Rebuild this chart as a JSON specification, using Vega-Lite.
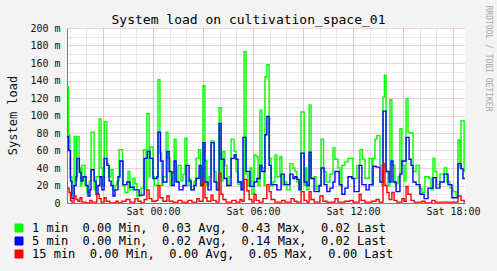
{
  "$schema": "https://vega.github.io/schema/vega-lite/v6.json",
  "width": 398,
  "height": 175,
  "autosize": {"type": "none"},
  "padding": {"left": 67, "top": 28, "right": 32, "bottom": 68},
  "background": "#F3F3F3",
  "title": {"text": "System load on cultivation_space_01", "font": "DejaVu Sans Mono", "fontSize": 13, "fontWeight": "normal", "color": "#000000", "anchor": "middle", "frame": "bounds", "offset": -22},
  "config": {
    "view": {"fill": "#FFFFFF", "stroke": null},
    "axis": {"labelFont": "DejaVu Sans Mono", "labelFontSize": 10, "labelColor": "#111111", "titleFont": "DejaVu Sans Mono", "titleFontWeight": "normal", "titleColor": "#111111"},
    "legend": {"orient": "none", "legendX": -54, "legendY": 194, "direction": "vertical", "symbolType": "square", "symbolSize": 64, "symbolStrokeWidth": 1, "labelFont": "DejaVu Sans Mono", "labelFontSize": 12, "labelColor": "#000000", "labelLimit": 600, "rowPadding": 1, "labelOffset": 7}
  },
  "datasets": {
    "g": [
      {"t":"2024-01-05T18:50:00Z","v":133},{"t":"2024-01-05T18:56:00Z","v":78},{"t":"2024-01-05T19:01:00Z","v":30},{"t":"2024-01-05T19:08:00Z","v":11},
      {"t":"2024-01-05T19:16:00Z","v":76},{"t":"2024-01-05T19:23:00Z","v":25},{"t":"2024-01-05T19:26:00Z","v":76},{"t":"2024-01-05T19:34:00Z","v":40},
      {"t":"2024-01-05T19:39:00Z","v":20},{"t":"2024-01-05T19:44:00Z","v":43},{"t":"2024-01-05T19:55:00Z","v":20},{"t":"2024-01-05T20:02:00Z","v":12},
      {"t":"2024-01-05T20:10:00Z","v":25},{"t":"2024-01-05T20:17:00Z","v":81},{"t":"2024-01-05T20:28:00Z","v":15},{"t":"2024-01-05T20:35:00Z","v":30},
      {"t":"2024-01-05T20:46:00Z","v":96},{"t":"2024-01-05T20:53:00Z","v":40},{"t":"2024-01-05T20:58:00Z","v":20},{"t":"2024-01-05T21:05:00Z","v":93},
      {"t":"2024-01-05T21:14:00Z","v":45},{"t":"2024-01-05T21:20:00Z","v":30},{"t":"2024-01-05T21:29:00Z","v":38},{"t":"2024-01-05T21:36:00Z","v":15},
      {"t":"2024-01-05T21:43:00Z","v":20},{"t":"2024-01-05T21:50:00Z","v":25},{"t":"2024-01-05T21:58:00Z","v":61},{"t":"2024-01-05T22:10:00Z","v":20},
      {"t":"2024-01-05T22:19:00Z","v":12},{"t":"2024-01-05T22:30:00Z","v":36},{"t":"2024-01-05T22:37:00Z","v":15},{"t":"2024-01-05T22:48:00Z","v":28},
      {"t":"2024-01-05T22:55:00Z","v":22},{"t":"2024-01-05T23:02:00Z","v":8},{"t":"2024-01-05T23:17:00Z","v":17},{"t":"2024-01-05T23:26:00Z","v":61},
      {"t":"2024-01-05T23:35:00Z","v":15},{"t":"2024-01-05T23:38:00Z","v":102},{"t":"2024-01-05T23:46:00Z","v":30},{"t":"2024-01-05T23:49:00Z","v":64},
      {"t":"2024-01-06T00:00:00Z","v":30},{"t":"2024-01-06T00:05:00Z","v":20},{"t":"2024-01-06T00:18:00Z","v":141},{"t":"2024-01-06T00:25:00Z","v":57},
      {"t":"2024-01-06T00:31:00Z","v":20},{"t":"2024-01-06T00:36:00Z","v":30},{"t":"2024-01-06T00:47:00Z","v":81},{"t":"2024-01-06T00:54:00Z","v":51},
      {"t":"2024-01-06T01:01:00Z","v":20},{"t":"2024-01-06T01:08:00Z","v":35},{"t":"2024-01-06T01:16:00Z","v":73},{"t":"2024-01-06T01:23:00Z","v":25},
      {"t":"2024-01-06T01:30:00Z","v":43},{"t":"2024-01-06T01:41:00Z","v":25},{"t":"2024-01-06T01:48:00Z","v":33},{"t":"2024-01-06T01:55:00Z","v":74},
      {"t":"2024-01-06T02:02:00Z","v":20},{"t":"2024-01-06T02:10:00Z","v":27},{"t":"2024-01-06T02:17:00Z","v":15},{"t":"2024-01-06T02:28:00Z","v":25},
      {"t":"2024-01-06T02:35:00Z","v":51},{"t":"2024-01-06T02:44:00Z","v":61},{"t":"2024-01-06T02:51:00Z","v":20},{"t":"2024-01-06T03:00:00Z","v":134},
      {"t":"2024-01-06T03:07:00Z","v":48},{"t":"2024-01-06T03:14:00Z","v":20},{"t":"2024-01-06T03:22:00Z","v":30},{"t":"2024-01-06T03:29:00Z","v":71},
      {"t":"2024-01-06T03:40:00Z","v":36},{"t":"2024-01-06T03:47:00Z","v":15},{"t":"2024-01-06T03:58:00Z","v":109},{"t":"2024-01-06T04:05:00Z","v":25},
      {"t":"2024-01-06T04:12:00Z","v":59},{"t":"2024-01-06T04:19:00Z","v":43},{"t":"2024-01-06T04:26:00Z","v":20},{"t":"2024-01-06T04:34:00Z","v":30},
      {"t":"2024-01-06T04:41:00Z","v":73},{"t":"2024-01-06T04:52:00Z","v":59},{"t":"2024-01-06T04:59:00Z","v":36},{"t":"2024-01-06T05:06:00Z","v":21},
      {"t":"2024-01-06T05:13:00Z","v":24},{"t":"2024-01-06T05:20:00Z","v":15},{"t":"2024-01-06T05:28:00Z","v":173},{"t":"2024-01-06T05:35:00Z","v":33},
      {"t":"2024-01-06T05:42:00Z","v":20},{"t":"2024-01-06T05:49:00Z","v":40},{"t":"2024-01-06T05:56:00Z","v":10},{"t":"2024-01-06T06:04:00Z","v":55},
      {"t":"2024-01-06T06:11:00Z","v":53},{"t":"2024-01-06T06:18:00Z","v":20},{"t":"2024-01-06T06:25:00Z","v":106},{"t":"2024-01-06T06:32:00Z","v":40},
      {"t":"2024-01-06T06:40:00Z","v":20},{"t":"2024-01-06T06:43:00Z","v":144},{"t":"2024-01-06T06:50:00Z","v":158},{"t":"2024-01-06T06:58:00Z","v":51},
      {"t":"2024-01-06T07:05:00Z","v":20},{"t":"2024-01-06T07:12:00Z","v":24},{"t":"2024-01-06T07:19:00Z","v":55},{"t":"2024-01-06T07:26:00Z","v":30},
      {"t":"2024-01-06T07:37:00Z","v":53},{"t":"2024-01-06T07:44:00Z","v":21},{"t":"2024-01-06T07:55:00Z","v":24},{"t":"2024-01-06T08:02:00Z","v":15},
      {"t":"2024-01-06T08:13:00Z","v":45},{"t":"2024-01-06T08:24:00Z","v":40},{"t":"2024-01-06T08:31:00Z","v":36},{"t":"2024-01-06T08:38:00Z","v":24},
      {"t":"2024-01-06T08:46:00Z","v":15},{"t":"2024-01-06T08:53:00Z","v":104},{"t":"2024-01-06T09:04:00Z","v":20},{"t":"2024-01-06T09:09:00Z","v":40},
      {"t":"2024-01-06T09:14:00Z","v":15},{"t":"2024-01-06T09:22:00Z","v":112},{"t":"2024-01-06T09:29:00Z","v":28},{"t":"2024-01-06T09:40:00Z","v":30},
      {"t":"2024-01-06T09:47:00Z","v":15},{"t":"2024-01-06T09:50:00Z","v":19},{"t":"2024-01-06T10:05:00Z","v":73},{"t":"2024-01-06T10:14:00Z","v":36},
      {"t":"2024-01-06T10:23:00Z","v":24},{"t":"2024-01-06T10:37:00Z","v":33},{"t":"2024-01-06T10:48:00Z","v":63},{"t":"2024-01-06T10:55:00Z","v":50},
      {"t":"2024-01-06T11:06:00Z","v":40},{"t":"2024-01-06T11:13:00Z","v":20},{"t":"2024-01-06T11:20:00Z","v":43},{"t":"2024-01-06T11:31:00Z","v":47},
      {"t":"2024-01-06T11:42:00Z","v":51},{"t":"2024-01-06T12:00:00Z","v":28},{"t":"2024-01-06T12:14:00Z","v":43},{"t":"2024-01-06T12:25:00Z","v":61},
      {"t":"2024-01-06T12:34:00Z","v":50},{"t":"2024-01-06T12:43:00Z","v":28},{"t":"2024-01-06T12:58:00Z","v":51},{"t":"2024-01-06T13:08:00Z","v":20},
      {"t":"2024-01-06T13:12:00Z","v":51},{"t":"2024-01-06T13:19:00Z","v":73},{"t":"2024-01-06T13:26:00Z","v":77},{"t":"2024-01-06T13:37:00Z","v":43},
      {"t":"2024-01-06T13:44:00Z","v":20},{"t":"2024-01-06T13:48:00Z","v":121},{"t":"2024-01-06T13:53:00Z","v":146},{"t":"2024-01-06T13:59:00Z","v":36},
      {"t":"2024-01-06T14:06:00Z","v":20},{"t":"2024-01-06T14:13:00Z","v":118},{"t":"2024-01-06T14:20:00Z","v":43},{"t":"2024-01-06T14:31:00Z","v":22},
      {"t":"2024-01-06T14:42:00Z","v":30},{"t":"2024-01-06T14:49:00Z","v":85},{"t":"2024-01-06T14:56:00Z","v":43},{"t":"2024-01-06T15:04:00Z","v":25},
      {"t":"2024-01-06T15:11:00Z","v":119},{"t":"2024-01-06T15:18:00Z","v":81},{"t":"2024-01-06T15:25:00Z","v":80},{"t":"2024-01-06T15:36:00Z","v":36},
      {"t":"2024-01-06T15:47:00Z","v":43},{"t":"2024-01-06T15:58:00Z","v":17},{"t":"2024-01-06T16:08:00Z","v":12},{"t":"2024-01-06T16:19:00Z","v":30},
      {"t":"2024-01-06T16:34:00Z","v":28},{"t":"2024-01-06T16:41:00Z","v":15},{"t":"2024-01-06T16:48:00Z","v":51},{"t":"2024-01-06T16:55:00Z","v":36},
      {"t":"2024-01-06T17:02:00Z","v":21},{"t":"2024-01-06T17:13:00Z","v":33},{"t":"2024-01-06T17:28:00Z","v":40},{"t":"2024-01-06T17:38:00Z","v":24},
      {"t":"2024-01-06T17:49:00Z","v":17},{"t":"2024-01-06T18:00:00Z","v":13},{"t":"2024-01-06T18:11:00Z","v":8},{"t":"2024-01-06T18:18:00Z","v":72},
      {"t":"2024-01-06T18:25:00Z","v":40},{"t":"2024-01-06T18:29:00Z","v":94},{"t":"2024-01-06T18:40:00Z","v":36},{"t":"2024-01-06T18:43:00Z","v":36}
    ],
    "b": [
      {"t":"2024-01-05T18:50:00Z","v":76},{"t":"2024-01-05T18:56:00Z","v":60},{"t":"2024-01-05T19:03:00Z","v":25},{"t":"2024-01-05T19:08:00Z","v":5},
      {"t":"2024-01-05T19:16:00Z","v":20},{"t":"2024-01-05T19:23:00Z","v":30},{"t":"2024-01-05T19:26:00Z","v":51},{"t":"2024-01-05T19:35:00Z","v":35},
      {"t":"2024-01-05T19:41:00Z","v":25},{"t":"2024-01-05T19:48:00Z","v":30},{"t":"2024-01-05T19:59:00Z","v":20},{"t":"2024-01-05T20:06:00Z","v":8},
      {"t":"2024-01-05T20:13:00Z","v":15},{"t":"2024-01-05T20:17:00Z","v":38},{"t":"2024-01-05T20:28:00Z","v":25},{"t":"2024-01-05T20:35:00Z","v":10},
      {"t":"2024-01-05T20:42:00Z","v":20},{"t":"2024-01-05T20:49:00Z","v":30},{"t":"2024-01-05T20:56:00Z","v":15},{"t":"2024-01-05T21:04:00Z","v":51},
      {"t":"2024-01-05T21:14:00Z","v":43},{"t":"2024-01-05T21:22:00Z","v":25},{"t":"2024-01-05T21:29:00Z","v":20},{"t":"2024-01-05T21:36:00Z","v":8},
      {"t":"2024-01-05T21:43:00Z","v":15},{"t":"2024-01-05T21:54:00Z","v":30},{"t":"2024-01-05T22:01:00Z","v":48},{"t":"2024-01-05T22:12:00Z","v":21},
      {"t":"2024-01-05T22:26:00Z","v":24},{"t":"2024-01-05T22:37:00Z","v":18},{"t":"2024-01-05T22:52:00Z","v":15},{"t":"2024-01-05T23:10:00Z","v":9},
      {"t":"2024-01-05T23:28:00Z","v":51},{"t":"2024-01-05T23:40:00Z","v":59},{"t":"2024-01-05T23:49:00Z","v":51},{"t":"2024-01-06T00:00:00Z","v":28},
      {"t":"2024-01-06T00:14:00Z","v":30},{"t":"2024-01-06T00:18:00Z","v":81},{"t":"2024-01-06T00:27:00Z","v":48},{"t":"2024-01-06T00:36:00Z","v":24},
      {"t":"2024-01-06T00:50:00Z","v":59},{"t":"2024-01-06T00:58:00Z","v":36},{"t":"2024-01-06T01:08:00Z","v":20},{"t":"2024-01-06T01:16:00Z","v":48},
      {"t":"2024-01-06T01:23:00Z","v":24},{"t":"2024-01-06T01:34:00Z","v":15},{"t":"2024-01-06T01:48:00Z","v":20},{"t":"2024-01-06T01:59:00Z","v":43},
      {"t":"2024-01-06T02:10:00Z","v":25},{"t":"2024-01-06T02:17:00Z","v":15},{"t":"2024-01-06T02:28:00Z","v":20},{"t":"2024-01-06T02:35:00Z","v":28},
      {"t":"2024-01-06T02:46:00Z","v":43},{"t":"2024-01-06T02:53:00Z","v":20},{"t":"2024-01-06T03:00:00Z","v":69},{"t":"2024-01-06T03:07:00Z","v":24},
      {"t":"2024-01-06T03:18:00Z","v":15},{"t":"2024-01-06T03:29:00Z","v":69},{"t":"2024-01-06T03:40:00Z","v":24},{"t":"2024-01-06T03:50:00Z","v":15},
      {"t":"2024-01-06T03:58:00Z","v":91},{"t":"2024-01-06T04:05:00Z","v":50},{"t":"2024-01-06T04:16:00Z","v":28},{"t":"2024-01-06T04:26:00Z","v":20},
      {"t":"2024-01-06T04:41:00Z","v":51},{"t":"2024-01-06T04:52:00Z","v":55},{"t":"2024-01-06T04:59:00Z","v":50},{"t":"2024-01-06T05:06:00Z","v":24},
      {"t":"2024-01-06T05:17:00Z","v":15},{"t":"2024-01-06T05:24:00Z","v":75},{"t":"2024-01-06T05:35:00Z","v":36},{"t":"2024-01-06T05:49:00Z","v":19},
      {"t":"2024-01-06T06:04:00Z","v":24},{"t":"2024-01-06T06:14:00Z","v":28},{"t":"2024-01-06T06:25:00Z","v":43},{"t":"2024-01-06T06:32:00Z","v":36},
      {"t":"2024-01-06T06:43:00Z","v":78},{"t":"2024-01-06T06:50:00Z","v":99},{"t":"2024-01-06T06:58:00Z","v":43},{"t":"2024-01-06T07:05:00Z","v":21},
      {"t":"2024-01-06T07:26:00Z","v":15},{"t":"2024-01-06T07:41:00Z","v":33},{"t":"2024-01-06T07:52:00Z","v":21},{"t":"2024-01-06T08:13:00Z","v":33},
      {"t":"2024-01-06T08:24:00Z","v":28},{"t":"2024-01-06T08:31:00Z","v":30},{"t":"2024-01-06T08:38:00Z","v":27},{"t":"2024-01-06T08:46:00Z","v":15},
      {"t":"2024-01-06T08:53:00Z","v":57},{"t":"2024-01-06T09:04:00Z","v":24},{"t":"2024-01-06T09:14:00Z","v":20},{"t":"2024-01-06T09:22:00Z","v":58},
      {"t":"2024-01-06T09:29:00Z","v":28},{"t":"2024-01-06T09:40:00Z","v":13},{"t":"2024-01-06T09:58:00Z","v":20},{"t":"2024-01-06T10:05:00Z","v":40},
      {"t":"2024-01-06T10:16:00Z","v":21},{"t":"2024-01-06T10:26:00Z","v":13},{"t":"2024-01-06T10:37:00Z","v":17},{"t":"2024-01-06T10:48:00Z","v":24},
      {"t":"2024-01-06T10:55:00Z","v":36},{"t":"2024-01-06T11:10:00Z","v":21},{"t":"2024-01-06T11:20:00Z","v":10},{"t":"2024-01-06T11:31:00Z","v":17},
      {"t":"2024-01-06T11:42:00Z","v":30},{"t":"2024-01-06T11:56:00Z","v":28},{"t":"2024-01-06T12:04:00Z","v":13},{"t":"2024-01-06T12:22:00Z","v":43},
      {"t":"2024-01-06T12:32:00Z","v":21},{"t":"2024-01-06T12:47:00Z","v":15},{"t":"2024-01-06T12:58:00Z","v":21},{"t":"2024-01-06T13:12:00Z","v":42},
      {"t":"2024-01-06T13:23:00Z","v":41},{"t":"2024-01-06T13:37:00Z","v":24},{"t":"2024-01-06T13:48:00Z","v":105},{"t":"2024-01-06T13:59:00Z","v":36},
      {"t":"2024-01-06T14:10:00Z","v":24},{"t":"2024-01-06T14:17:00Z","v":48},{"t":"2024-01-06T14:24:00Z","v":24},{"t":"2024-01-06T14:35:00Z","v":13},
      {"t":"2024-01-06T14:49:00Z","v":33},{"t":"2024-01-06T14:56:00Z","v":48},{"t":"2024-01-06T15:11:00Z","v":75},{"t":"2024-01-06T15:22:00Z","v":50},
      {"t":"2024-01-06T15:29:00Z","v":43},{"t":"2024-01-06T15:36:00Z","v":24},{"t":"2024-01-06T15:47:00Z","v":21},{"t":"2024-01-06T16:01:00Z","v":10},
      {"t":"2024-01-06T16:16:00Z","v":5},{"t":"2024-01-06T16:30:00Z","v":17},{"t":"2024-01-06T16:48:00Z","v":29},{"t":"2024-01-06T16:59:00Z","v":17},
      {"t":"2024-01-06T17:13:00Z","v":24},{"t":"2024-01-06T17:28:00Z","v":33},{"t":"2024-01-06T17:42:00Z","v":21},{"t":"2024-01-06T17:56:00Z","v":6},
      {"t":"2024-01-06T18:18:00Z","v":45},{"t":"2024-01-06T18:29:00Z","v":39},{"t":"2024-01-06T18:36:00Z","v":28},{"t":"2024-01-06T18:43:00Z","v":28}
    ],
    "r": [
      {"t":"2024-01-05T18:50:00Z","v":17},{"t":"2024-01-05T18:58:00Z","v":12},{"t":"2024-01-05T19:03:00Z","v":3},{"t":"2024-01-05T19:08:00Z","v":1},
      {"t":"2024-01-05T19:16:00Z","v":8},{"t":"2024-01-05T19:23:00Z","v":4},{"t":"2024-01-05T19:30:00Z","v":2},{"t":"2024-01-05T19:37:00Z","v":6},
      {"t":"2024-01-05T19:44:00Z","v":1},{"t":"2024-01-05T19:59:00Z","v":0},{"t":"2024-01-05T20:13:00Z","v":3},{"t":"2024-01-05T20:20:00Z","v":1},
      {"t":"2024-01-05T20:38:00Z","v":10},{"t":"2024-01-05T20:46:00Z","v":5},{"t":"2024-01-05T20:53:00Z","v":1},{"t":"2024-01-05T21:04:00Z","v":6},
      {"t":"2024-01-05T21:11:00Z","v":2},{"t":"2024-01-05T21:25:00Z","v":0},{"t":"2024-01-05T21:47:00Z","v":2},{"t":"2024-01-05T21:54:00Z","v":0},
      {"t":"2024-01-05T22:08:00Z","v":2},{"t":"2024-01-05T22:23:00Z","v":4},{"t":"2024-01-05T22:37:00Z","v":1},{"t":"2024-01-05T22:55:00Z","v":5},
      {"t":"2024-01-05T23:06:00Z","v":2},{"t":"2024-01-05T23:17:00Z","v":0},{"t":"2024-01-05T23:28:00Z","v":4},{"t":"2024-01-05T23:38:00Z","v":15},
      {"t":"2024-01-05T23:46:00Z","v":5},{"t":"2024-01-05T23:56:00Z","v":2},{"t":"2024-01-06T00:11:00Z","v":3},{"t":"2024-01-06T00:18:00Z","v":20},
      {"t":"2024-01-06T00:25:00Z","v":6},{"t":"2024-01-06T00:36:00Z","v":2},{"t":"2024-01-06T00:50:00Z","v":8},{"t":"2024-01-06T00:58:00Z","v":2},
      {"t":"2024-01-06T01:12:00Z","v":1},{"t":"2024-01-06T01:30:00Z","v":3},{"t":"2024-01-06T01:44:00Z","v":1},{"t":"2024-01-06T02:06:00Z","v":3},
      {"t":"2024-01-06T02:20:00Z","v":1},{"t":"2024-01-06T02:38:00Z","v":5},{"t":"2024-01-06T02:46:00Z","v":2},{"t":"2024-01-06T03:00:00Z","v":24},
      {"t":"2024-01-06T03:07:00Z","v":6},{"t":"2024-01-06T03:14:00Z","v":2},{"t":"2024-01-06T03:29:00Z","v":9},{"t":"2024-01-06T03:36:00Z","v":3},
      {"t":"2024-01-06T03:47:00Z","v":1},{"t":"2024-01-06T03:58:00Z","v":34},{"t":"2024-01-06T04:05:00Z","v":10},{"t":"2024-01-06T04:12:00Z","v":4},
      {"t":"2024-01-06T04:23:00Z","v":1},{"t":"2024-01-06T04:44:00Z","v":3},{"t":"2024-01-06T04:59:00Z","v":1},{"t":"2024-01-06T05:13:00Z","v":4},
      {"t":"2024-01-06T05:20:00Z","v":2},{"t":"2024-01-06T05:28:00Z","v":27},{"t":"2024-01-06T05:38:00Z","v":14},{"t":"2024-01-06T05:46:00Z","v":4},
      {"t":"2024-01-06T05:56:00Z","v":1},{"t":"2024-01-06T06:04:00Z","v":10},{"t":"2024-01-06T06:11:00Z","v":3},{"t":"2024-01-06T06:22:00Z","v":1},
      {"t":"2024-01-06T06:36:00Z","v":5},{"t":"2024-01-06T06:50:00Z","v":21},{"t":"2024-01-06T06:58:00Z","v":13},{"t":"2024-01-06T07:05:00Z","v":4},
      {"t":"2024-01-06T07:19:00Z","v":1},{"t":"2024-01-06T07:44:00Z","v":3},{"t":"2024-01-06T07:55:00Z","v":1},{"t":"2024-01-06T08:17:00Z","v":5},
      {"t":"2024-01-06T08:28:00Z","v":2},{"t":"2024-01-06T08:38:00Z","v":1},{"t":"2024-01-06T08:53:00Z","v":13},{"t":"2024-01-06T09:04:00Z","v":3},
      {"t":"2024-01-06T09:14:00Z","v":1},{"t":"2024-01-06T09:22:00Z","v":13},{"t":"2024-01-06T09:29:00Z","v":4},{"t":"2024-01-06T09:40:00Z","v":1},
      {"t":"2024-01-06T10:01:00Z","v":8},{"t":"2024-01-06T10:12:00Z","v":2},{"t":"2024-01-06T10:26:00Z","v":1},{"t":"2024-01-06T10:55:00Z","v":5},
      {"t":"2024-01-06T11:06:00Z","v":1},{"t":"2024-01-06T11:31:00Z","v":2},{"t":"2024-01-06T11:49:00Z","v":3},{"t":"2024-01-06T12:00:00Z","v":1},
      {"t":"2024-01-06T12:22:00Z","v":10},{"t":"2024-01-06T12:29:00Z","v":3},{"t":"2024-01-06T12:43:00Z","v":1},{"t":"2024-01-06T13:08:00Z","v":2},
      {"t":"2024-01-06T13:23:00Z","v":4},{"t":"2024-01-06T13:34:00Z","v":1},{"t":"2024-01-06T13:48:00Z","v":45},{"t":"2024-01-06T13:55:00Z","v":20},
      {"t":"2024-01-06T14:02:00Z","v":12},{"t":"2024-01-06T14:10:00Z","v":4},{"t":"2024-01-06T14:20:00Z","v":12},{"t":"2024-01-06T14:28:00Z","v":3},
      {"t":"2024-01-06T14:38:00Z","v":1},{"t":"2024-01-06T14:56:00Z","v":5},{"t":"2024-01-06T15:04:00Z","v":2},{"t":"2024-01-06T15:11:00Z","v":19},
      {"t":"2024-01-06T15:18:00Z","v":10},{"t":"2024-01-06T15:29:00Z","v":3},{"t":"2024-01-06T15:40:00Z","v":1},{"t":"2024-01-06T16:08:00Z","v":2},
      {"t":"2024-01-06T16:19:00Z","v":0},{"t":"2024-01-06T16:44:00Z","v":3},{"t":"2024-01-06T16:55:00Z","v":1},{"t":"2024-01-06T17:35:00Z","v":1},
      {"t":"2024-01-06T18:18:00Z","v":8},{"t":"2024-01-06T18:29:00Z","v":3},{"t":"2024-01-06T18:40:00Z","v":1},{"t":"2024-01-06T18:43:00Z","v":1}
    ]
  },
  "layer": [
    {
      "data": {"name": "g"},
      "mark": {"type": "line", "interpolate": "step-after", "strokeWidth": 1.4, "clip": true},
      "encoding": {
        "x": {"field": "t", "type": "temporal", "scale": {"type": "utc", "domain": [1704480624000, 1704566592000]},
              "axis": {"orient": "bottom", "grid": true, "gridColor": "#D2D2D2", "gridDash": [1, 1],
                       "values": [1704481200000, 1704484800000, 1704488400000, 1704492000000, 1704495600000, 1704499200000, 1704502800000, 1704506400000, 1704510000000, 1704513600000, 1704517200000, 1704520800000, 1704524400000, 1704528000000, 1704531600000, 1704535200000, 1704538800000, 1704542400000, 1704546000000, 1704549600000, 1704553200000, 1704556800000, 1704560400000, 1704564000000],
                       "labels": false, "ticks": false, "domain": false, "title": null}},
        "y": {"field": "v", "type": "quantitative", "scale": {"domain": [0, 200], "nice": false},
              "axis": {"orient": "left", "grid": true, "gridColor": "#D2D2D2", "gridDash": [1, 1], "values": [10, 30, 50, 70, 90, 110, 130, 150, 170, 190], "labels": false, "ticks": false, "domain": false, "title": null}},
        "color": {"datum": "1 min", "type": "nominal",
                  "scale": {"domain": ["1 min", "5 min", "15 min"], "range": ["#00FF00", "#0000FF", "#FF0000"]},
                  "legend": {
                    "title": null,
                    "labelExpr": "datum.label == '1 min' ? '\u00a01\u00a0min\u00a0\u00a00.00\u00a0Min,\u00a0\u00a00.03\u00a0Avg,\u00a0\u00a00.43\u00a0Max,\u00a0\u00a00.02\u00a0Last' : datum.label == '5 min' ? '\u00a05\u00a0min\u00a0\u00a00.00\u00a0Min,\u00a0\u00a00.02\u00a0Avg,\u00a0\u00a00.14\u00a0Max,\u00a0\u00a00.02\u00a0Last' : '15\u00a0min\u00a0\u00a00.00\u00a0Min,\u00a0\u00a00.00\u00a0Avg,\u00a0\u00a00.05\u00a0Max,\u00a0\u00a00.00\u00a0Last'",
                    "encode": {"symbols": {"update": {"fill": {"scale": "color", "field": "value"}, "stroke": {"value": "#000000"}, "fillOpacity": {"value": 1}, "strokeWidth": {"value": 1}}}}
                  }}
      }
    },
    {
      "data": {"name": "b"},
      "mark": {"type": "line", "interpolate": "step-after", "strokeWidth": 1.4, "clip": true},
      "encoding": {
        "x": {"field": "t", "type": "temporal",
              "axis": {"orient": "bottom", "grid": true, "gridColor": "#E9A0A0", "gridDash": [1, 1],
                       "values": [1704488400000, 1704499200000, 1704510000000, 1704520800000, 1704531600000, 1704542400000, 1704553200000, 1704564000000],
                       "labels": false, "ticks": false, "domain": false, "title": null}},
        "y": {"field": "v", "type": "quantitative",
              "axis": {"orient": "left", "grid": true, "gridColor": "#E9A0A0", "gridDash": [1, 1], "values": [20, 40, 60, 80, 100, 120, 140, 160, 180, 200], "labels": false, "ticks": false, "domain": false, "title": null}},
        "color": {"datum": "5 min", "type": "nominal"}
      }
    },
    {
      "data": {"name": "r"},
      "mark": {"type": "line", "interpolate": "step-after", "strokeWidth": 1.4, "clip": true},
      "encoding": {
        "x": {"field": "t", "type": "temporal",
              "axis": {"orient": "bottom", "grid": false,
                       "values": [1704499200000, 1704520800000, 1704542400000, 1704564000000],
                       "labelExpr": "utcFormat(datum.value, '%a %H:%M')", "labelPadding": 3, "ticks": false, "domain": true, "domainColor": "#7A7A7A", "labelFlush": false, "labelOverlap": false, "title": null}},
        "y": {"field": "v", "type": "quantitative",
              "axis": {"orient": "left", "grid": false, "values": [0, 20, 40, 60, 80, 100, 120, 140, 160, 180, 200], "labelExpr": "datum.value == 0 ? '0' : datum.value + ' m'", "labelPadding": 7, "ticks": false, "domain": true, "domainColor": "#7A7A7A", "labelFlush": false, "labelOverlap": false,
                       "title": "System load", "titleFontSize": 12, "titleAngle": 270, "titleX": -55, "titleY": 87, "titleAlign": "center", "titleBaseline": "middle"}},
        "color": {"datum": "15 min", "type": "nominal"}
      }
    },
    {
      "data": {"name": "r"},
      "mark": {"type": "line", "strokeOpacity": 0, "clip": true},
      "encoding": {
        "x": {"field": "t", "type": "temporal", "axis": null},
        "y": {"field": "v", "type": "quantitative",
              "axis": {"orient": "right", "grid": false, "labels": false, "ticks": false, "domain": false,
                       "title": "RRDTOOL / TOBI OETIKER", "titleFontSize": 8, "titleColor": "#A8A8A8", "titleAngle": 90, "titleX": 22, "titleY": -23, "titleAlign": "left", "titleBaseline": "middle"}}
      }
    }
  ],
  "resolve": {"axis": {"x": "independent", "y": "independent"}}
}
